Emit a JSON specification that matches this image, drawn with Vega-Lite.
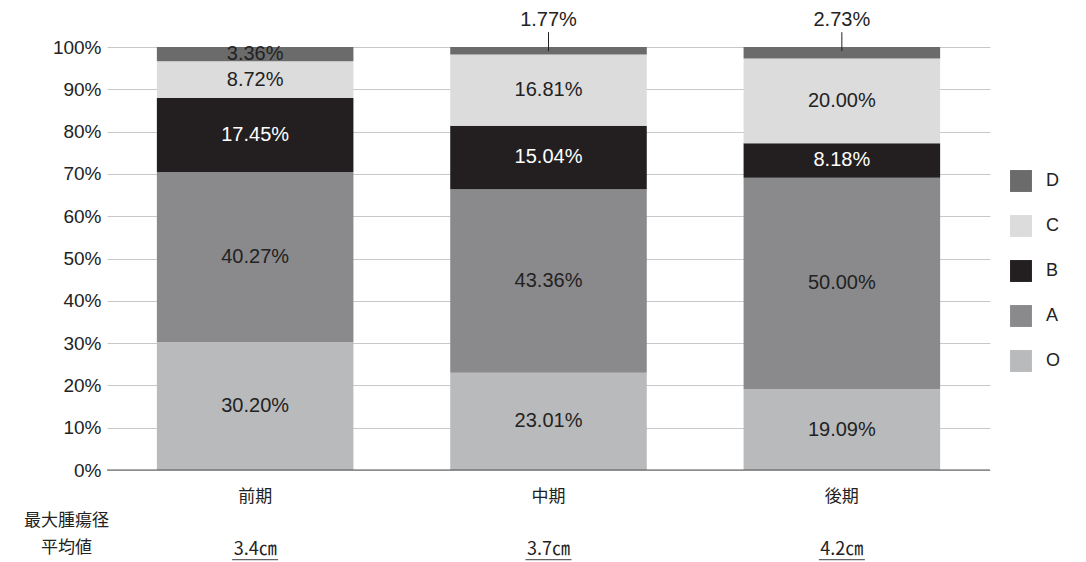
{
"$schema":"https://vega.github.io/schema/vega-lite/v6.json",
"autosize":{"type":"none"},
"width":883,"height":423,
"padding":{"left":107,"top":47,"right":96,"bottom":92},
"background":"white",
"config":{"font":"Noto Sans CJK JP","view":{"stroke":null}},
"datasets":{
"main":[
{"period":"前期","type":"O","ord":1,"v":0.3020},
{"period":"前期","type":"A","ord":2,"v":0.4027},
{"period":"前期","type":"B","ord":3,"v":0.1745},
{"period":"前期","type":"C","ord":4,"v":0.0872},
{"period":"前期","type":"D","ord":5,"v":0.0336},
{"period":"中期","type":"O","ord":1,"v":0.2301},
{"period":"中期","type":"A","ord":2,"v":0.4336},
{"period":"中期","type":"B","ord":3,"v":0.1504},
{"period":"中期","type":"C","ord":4,"v":0.1681},
{"period":"中期","type":"D","ord":5,"v":0.0177},
{"period":"後期","type":"O","ord":1,"v":0.1909},
{"period":"後期","type":"A","ord":2,"v":0.5000},
{"period":"後期","type":"B","ord":3,"v":0.0818},
{"period":"後期","type":"C","ord":4,"v":0.2000},
{"period":"後期","type":"D","ord":5,"v":0.0273}
],
"means":[{"period":"前期","m":"3.4㎝"},{"period":"中期","m":"3.7㎝"},{"period":"後期","m":"4.2㎝"}]
},
"layer":[
{"data":{"name":"main"},
"mark":{"type":"bar"},
"encoding":{
"x":{"field":"period","type":"nominal","sort":["前期","中期","後期"],
"scale":{"paddingInner":0.33,"paddingOuter":0.17},
"axis":{"domain":false,"ticks":false,"labelAngle":0,"labelFontSize":17,"labelColor":"#222","labelPadding":18,
"title":["最大腫瘍径","平均値"],"titleFontSize":17,"titleFontWeight":"normal","titleColor":"#222",
"titleX":-41,"titleY":42,"titleAlign":"center","titleBaseline":"top","titleLineHeight":27,"titleAnchor":null}},
"y":{"field":"v","type":"quantitative","stack":"zero","scale":{"domain":[0,1]},
"axis":{"format":"%","values":[0,0.1,0.2,0.3,0.4,0.5,0.6,0.7,0.8,0.9,1],"title":null,"domain":false,"ticks":false,
"labelFontSize":19,"labelFont":"Liberation Sans","labelColor":"#222","labelPadding":6,"gridColor":"#c8c8c8"}},
"order":{"field":"ord","type":"quantitative"},
"color":{"field":"type","type":"nominal","sort":["D","C","B","A","O"],
"scale":{"domain":["D","C","B","A","O"],"range":["#6b6b6b","#dcdcdd","#231f20","#8a8a8c","#b9babc"]},
"legend":{"title":null,"orient":"none","legendX":903,"legendY":123,"symbolType":"square","symbolSize":480,
"symbolStrokeWidth":0,"labelFontSize":18,"labelFont":"Liberation Sans","labelColor":"#222","rowPadding":23,"labelOffset":14}}}},
{"data":{"values":[{"z":0}]},"mark":{"type":"rule","color":"#555"},"encoding":{"y":{"datum":0}}},
{"data":{"name":"main"},
"transform":[
{"stack":"v","groupby":["period"],"sort":[{"field":"ord"}],"as":["y0","y1"]},
{"filter":"!(datum.type=='D' && datum.period!='前期')"},
{"calculate":"(datum.y0+datum.y1)/2","as":"mid"},
{"calculate":"format(datum.v,'.2%')","as":"lab"}],
"mark":{"type":"text","fontSize":20,"font":"Liberation Sans"},
"encoding":{"x":{"field":"period","type":"nominal","sort":["前期","中期","後期"]},
"y":{"field":"mid","type":"quantitative"},
"text":{"field":"lab"},
"color":{"condition":{"test":"datum.type=='B'","value":"white"},"value":"#222"}}},
{"data":{"name":"main"},
"transform":[{"filter":"datum.type=='D' && datum.period!='前期'"},{"calculate":"format(datum.v,'.2%')","as":"lab"}],
"mark":{"type":"text","fontSize":20,"font":"Liberation Sans","color":"#222","dy":-27},
"encoding":{"x":{"field":"period","type":"nominal","sort":["前期","中期","後期"]},"y":{"datum":1},"text":{"field":"lab"}}},
{"data":{"name":"main"},
"transform":[{"filter":"datum.type=='D' && datum.period!='前期'"}],
"mark":{"type":"rule","color":"#222"},
"encoding":{"x":{"field":"period","type":"nominal","sort":["前期","中期","後期"]},"y":{"datum":0.99},"y2":{"datum":1.035}}},
{"data":{"name":"means"},
"mark":{"type":"text","fontSize":18,"color":"#222","font":"Noto Sans CJK JP"},
"encoding":{"x":{"field":"period","type":"nominal","sort":["前期","中期","後期"]},"y":{"datum":-0.19},"text":{"field":"m"}}},
{"data":{"name":"means"},
"mark":{"type":"tick","orient":"horizontal","color":"#222","size":46,"thickness":1.2},
"encoding":{"x":{"field":"period","type":"nominal","sort":["前期","中期","後期"]},"y":{"datum":-0.212}}}
]
}
